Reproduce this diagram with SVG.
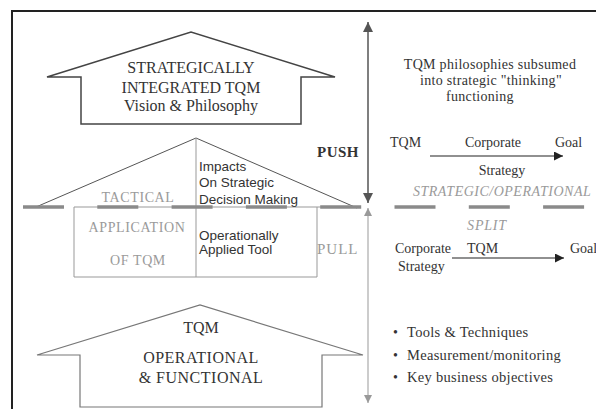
<svg xmlns="http://www.w3.org/2000/svg" width="596" height="409" viewBox="0 0 596 409">
<style>
.serif{font-family:"Liberation Serif","Times New Roman",serif;fill:#333}
.sans{font-family:"Liberation Sans",Arial,sans-serif;fill:#333}
.grey{fill:#9a9a9a}
.house{fill:none;stroke:#444;stroke-width:1.5;stroke-linejoin:miter}
.houseL{fill:none;stroke:#777;stroke-width:1.2}
.mid{text-anchor:middle}
</style>
<defs>
<marker id="ahD" viewBox="0 0 10 10" refX="10" refY="5" markerWidth="10" markerHeight="10" markerUnits="userSpaceOnUse" orient="auto-start-reverse"><path d="M0,0 L10,5 L0,10 z" fill="#555"/></marker>
<marker id="ahL" viewBox="0 0 10 10" refX="10" refY="5" markerWidth="9" markerHeight="8" markerUnits="userSpaceOnUse" orient="auto-start-reverse"><path d="M0,0 L10,5 L0,10 z" fill="#999"/></marker>
<marker id="ahB" viewBox="0 0 10 10" refX="10" refY="5" markerWidth="12" markerHeight="9" markerUnits="userSpaceOnUse" orient="auto"><path d="M0,0 L10,5 L0,10 z" fill="#222"/></marker>
</defs>
<rect width="596" height="409" fill="#fff"/>
<!-- frame -->
<path d="M12,409 L12,11 L596,11" fill="none" stroke="#222" stroke-width="2"/>

<g id="strategic-house">
<path class="house" d="M81,124 L81,77 L47,77 L191,32 L335,77 L301,77 L301,124 Z"/>
<text class="serif mid" x="191" y="73" font-size="16">STRATEGICALLY</text>
<text class="serif mid" x="191" y="93" font-size="16">INTEGRATED TQM</text>
<text class="serif mid" x="191" y="111" font-size="16">Vision &amp; Philosophy</text>
</g>

<g id="tactical-house">
<path d="M36,207 L196,138 L357,208" fill="none" stroke="#555" stroke-width="1"/>
<path d="M74,207 L74,277 L317,277 L317,207 M74,207 L357,207" fill="none" stroke="#999" stroke-width="1"/>
<line x1="196" y1="138" x2="196" y2="277" stroke="#999" stroke-width="1"/>
<text class="serif grey mid" x="138" y="202" font-size="14" letter-spacing="0.6">TACTICAL</text>
<text class="serif grey mid" x="137" y="232" font-size="14" letter-spacing="0.6">APPLICATION</text>
<text class="serif grey mid" x="138" y="265" font-size="14" letter-spacing="0.6">OF TQM</text>
<text class="sans" x="199" y="171" font-size="13.5">Impacts</text>
<text class="sans" x="199" y="187" font-size="13.5">On Strategic</text>
<text class="sans" x="199" y="204" font-size="13.5">Decision Making</text>
<text class="sans" x="199" y="240" font-size="13.5">Operationally</text>
<text class="sans" x="199" y="254" font-size="13.5">Applied Tool</text>
</g>

<g id="split-line">
<line x1="23" y1="207" x2="586" y2="207" stroke="#8a8a8a" stroke-width="3.5" stroke-dasharray="41 33.3"/>
<text class="serif grey" x="413" y="196" font-size="14" font-style="italic" letter-spacing="0.5">STRATEGIC/OPERATIONAL</text>
<text class="serif grey mid" x="487" y="230" font-size="14" font-style="italic" letter-spacing="0.8">SPLIT</text>
</g>

<g id="operational-house">
<path class="houseL" d="M80,407 L80,355 L37,355 L200,305 L363,355 L322,355 L322,407 Z"/>
<text class="serif mid" x="201" y="333" font-size="16">TQM</text>
<text class="serif mid" x="201" y="363" font-size="16" letter-spacing="0.5">OPERATIONAL</text>
<text class="serif mid" x="201" y="383" font-size="16" letter-spacing="0.5">&amp; FUNCTIONAL</text>
</g>

<g id="push-pull">
<text class="serif" x="317" y="157" font-size="15" font-weight="bold" letter-spacing="0.5">PUSH</text>
<text class="serif grey" x="317" y="254" font-size="15" letter-spacing="1">PULL</text>
</g>

<g id="right-notes">
<text class="serif mid" x="490" y="69" font-size="14" letter-spacing="0.3">TQM philosophies subsumed</text>
<text class="serif mid" x="491" y="85" font-size="14" letter-spacing="0.3">into strategic "thinking"</text>
<text class="serif mid" x="480" y="101" font-size="14" letter-spacing="0.3">functioning</text>
<text class="serif" x="390" y="147" font-size="14">TQM</text>
<text class="serif" x="465" y="147" font-size="14">Corporate</text>
<text class="serif" x="555" y="147" font-size="14">Goal</text>
<text class="serif mid" x="502" y="175" font-size="14">Strategy</text>
<text class="serif" x="395" y="253" font-size="14">Corporate</text>
<text class="serif" x="467" y="253" font-size="14">TQM</text>
<text class="serif" x="570" y="253" font-size="14">Goal</text>
<text class="serif" x="398" y="271" font-size="14">Strategy</text>
<text class="serif" x="393" y="337" font-size="14">•</text>
<text class="serif" x="407" y="337" font-size="14.5" letter-spacing="0.3">Tools &amp; Techniques</text>
<text class="serif" x="393" y="360" font-size="14">•</text>
<text class="serif" x="407" y="360" font-size="14.5" letter-spacing="0.3">Measurement/monitoring</text>
<text class="serif" x="393" y="382" font-size="14">•</text>
<text class="serif" x="407" y="382" font-size="14.5" letter-spacing="0.3">Key business objectives</text>
</g>

<g id="connectors">
<line x1="368" y1="22" x2="368" y2="203" stroke="#555" stroke-width="1.5" marker-start="url(#ahD)" marker-end="url(#ahD)"/>
<line x1="368" y1="208" x2="368" y2="403" stroke="#999" stroke-width="1" marker-start="url(#ahL)" marker-end="url(#ahL)"/>
<line x1="430" y1="156" x2="563" y2="156" stroke="#222" stroke-width="1.2" marker-end="url(#ahB)"/>
<line x1="452" y1="258" x2="564" y2="258" stroke="#222" stroke-width="1.2" marker-end="url(#ahB)"/>
</g>
</svg>
